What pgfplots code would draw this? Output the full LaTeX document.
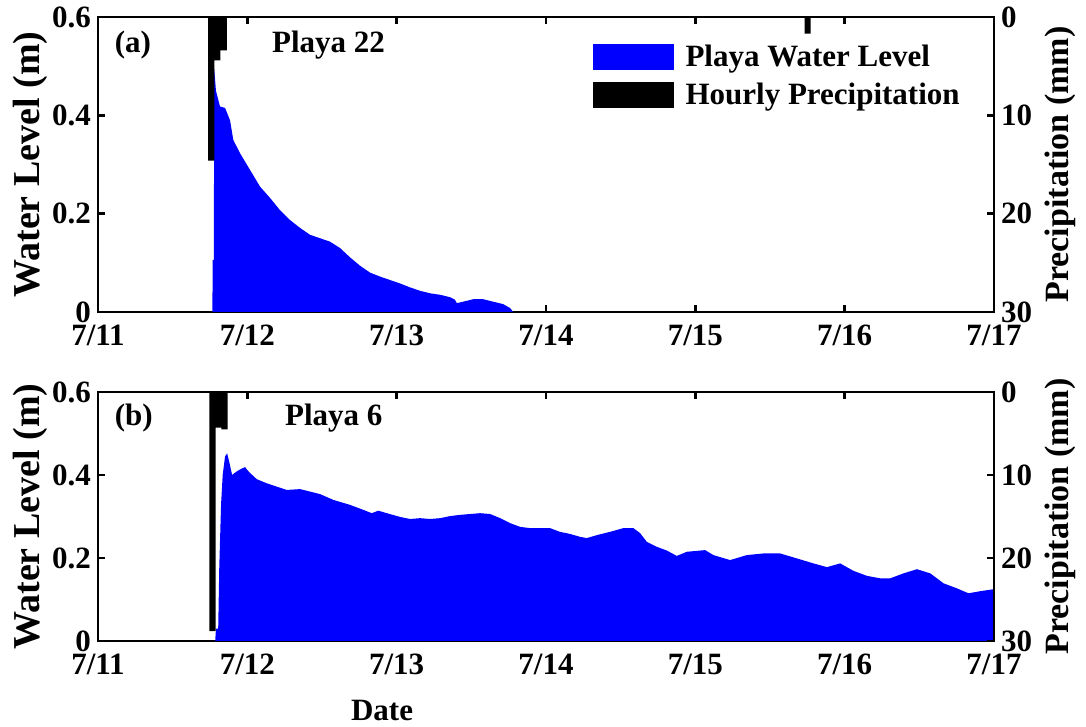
\documentclass[border=0pt]{standalone}
\usepackage{pgfplots}
\pgfplotsset{compat=1.18}
\usepackage{fontspec}
\setmainfont{Liberation Serif}
\pgfplotstableread{
x y
0.766 0
0.768 0.106
0.776 0.106
0.778 0.495
0.790 0.450
0.817 0.418
0.851 0.415
0.884 0.390
0.906 0.350
0.951 0.323
1.018 0.289
1.085 0.255
1.152 0.232
1.219 0.207
1.286 0.187
1.353 0.171
1.420 0.157
1.487 0.150
1.554 0.143
1.621 0.130
1.688 0.111
1.755 0.094
1.822 0.080
1.889 0.072
1.956 0.065
2.023 0.058
2.090 0.050
2.157 0.043
2.224 0.038
2.291 0.035
2.358 0.030
2.390 0.025
2.403 0.018
2.445 0.021
2.514 0.026
2.579 0.026
2.646 0.021
2.713 0.016
2.760 0.008
2.780 0
}\levelA
\pgfplotstableread{
x y
0.785 0
0.790 0.030
0.805 0.030
0.812 0.176
0.824 0.328
0.835 0.400
0.851 0.445
0.865 0.452
0.880 0.430
0.898 0.400
0.915 0.405
0.935 0.410
0.960 0.415
0.985 0.419
1.000 0.412
1.018 0.405
1.063 0.390
1.130 0.380
1.197 0.372
1.264 0.364
1.353 0.366
1.420 0.360
1.487 0.354
1.576 0.340
1.688 0.328
1.777 0.316
1.833 0.308
1.877 0.314
1.934 0.308
2.023 0.299
2.090 0.294
2.157 0.296
2.224 0.294
2.291 0.296
2.358 0.301
2.425 0.304
2.492 0.306
2.559 0.308
2.626 0.306
2.693 0.296
2.760 0.284
2.827 0.275
2.894 0.272
2.960 0.272
3.027 0.272
3.094 0.263
3.161 0.258
3.228 0.251
3.273 0.248
3.340 0.255
3.429 0.263
3.518 0.272
3.585 0.272
3.630 0.260
3.675 0.239
3.742 0.227
3.809 0.218
3.876 0.205
3.943 0.215
4.066 0.219
4.121 0.207
4.233 0.195
4.345 0.207
4.456 0.211
4.568 0.211
4.680 0.199
4.791 0.187
4.881 0.178
4.970 0.187
5.059 0.169
5.149 0.157
5.238 0.151
5.305 0.151
5.394 0.163
5.484 0.173
5.573 0.163
5.662 0.139
5.751 0.127
5.829 0.115
5.908 0.120
6.000 0.125
6.000 0
}\levelB
\pgfplotstableread{
x p
0.758 14.6
0.799 4.4
0.842 3.4
4.752 1.7
}\precA
\pgfplotstableread{
x p
0.767 28.8
0.805 4.3
0.847 4.5
}\precB
\begin{document}
\begin{tikzpicture}
\path[use as bounding box] (-49pt,-43pt) rectangle (494pt,320.5pt);
\pgfplotsset{
  base/.style={scale only axis, width=448pt, xmin=0, xmax=6,
    axis line style={line width=1.4pt},
    every tick/.style={line width=1.4pt, black},
    major tick length=3.5pt, tick align=inside,
    tick label style={font=\fontsize{15.5}{18}\selectfont\bfseries},
    anchor=south west},
  lft/.style={base, ymin=0, ymax=0.6, ytick={0,0.2,0.4,0.6},
    yticklabels={0,0.2,0.4,0.6},
    xtick={0,1,2,3,4,5,6},
    xticklabels={7/11,7/12,7/13,7/14,7/15,7/16,7/17},
    xticklabel style={yshift=-3pt},
    xtick pos=both, ytick pos=left,
    ylabel={Water Level (m)},
    ylabel style={font=\fontsize{19}{22}\selectfont\bfseries, at={(axis description cs:-0.076,0.5)}, anchor=center}},
  rgt/.style={base, axis x line=none, axis y line*=right, y dir=reverse,
    ymin=0, ymax=30, ytick={0,10,20,30}, yticklabels={0,10,20,30},
    ylabel={Precipitation (mm)},
    ylabel style={font=\fontsize{17}{20}\selectfont\bfseries, at={(axis description cs:1.0737,0.5)}, anchor=center}},
}
% Panel (a)
\begin{axis}[lft, height=147.5pt, at={(0pt,164.5pt)}]
\addplot[fill=blue, draw=none] table[x=x,y=y] {\levelA} \closedcycle;
\node[anchor=west, font=\fontsize{15.5}{18}\selectfont\bfseries] at (axis description cs:0.011,0.905) {(a)};
\node[anchor=west, font=\fontsize{15.5}{18}\selectfont\bfseries] at (axis description cs:0.1864,0.905) {Playa 22};
\end{axis}
\begin{axis}[rgt, height=147.5pt, at={(0pt,164.5pt)},
  legend style={at={(axis description cs:0.545,0.935)}, anchor=north west, draw=none, fill=none,
    font=\fontsize{15.5}{18}\selectfont\bfseries, row sep=3pt,
    /tikz/every odd column/.append style={column sep=4pt}},
  legend cell align=left]
\addlegendimage{legend image code/.code={\fill[blue] (0pt,-6.25pt) rectangle (40pt,6.25pt);}}
\addlegendentry{Playa Water Level}
\addlegendimage{legend image code/.code={\fill[black] (0pt,-6.25pt) rectangle (40pt,6.25pt);}}
\addlegendentry{Hourly Precipitation}
\addplot[ybar, bar width=0.041, fill=black, draw=none, forget plot] table[x=x,y=p] {\precA};
\end{axis}
% Panel (b)
\begin{axis}[lft, height=124.5pt, at={(0pt,0pt)},
  xlabel={Date},
  xlabel style={font=\fontsize{15.5}{18}\selectfont\bfseries, at={(axis description cs:0.317,-0.281)}, anchor=center}]
\addplot[fill=blue, draw=none] table[x=x,y=y] {\levelB} \closedcycle;
\node[anchor=west, font=\fontsize{15.5}{18}\selectfont\bfseries] at (axis description cs:0.011,0.896) {(b)};
\node[anchor=west, font=\fontsize{15.5}{18}\selectfont\bfseries] at (axis description cs:0.201,0.896) {Playa 6};
\end{axis}
\begin{axis}[rgt, height=124.5pt, at={(0pt,0pt)}]
\addplot[ybar, bar width=0.041, fill=black, draw=none] table[x=x,y=p] {\precB};
\end{axis}
\end{tikzpicture}
\end{document}
